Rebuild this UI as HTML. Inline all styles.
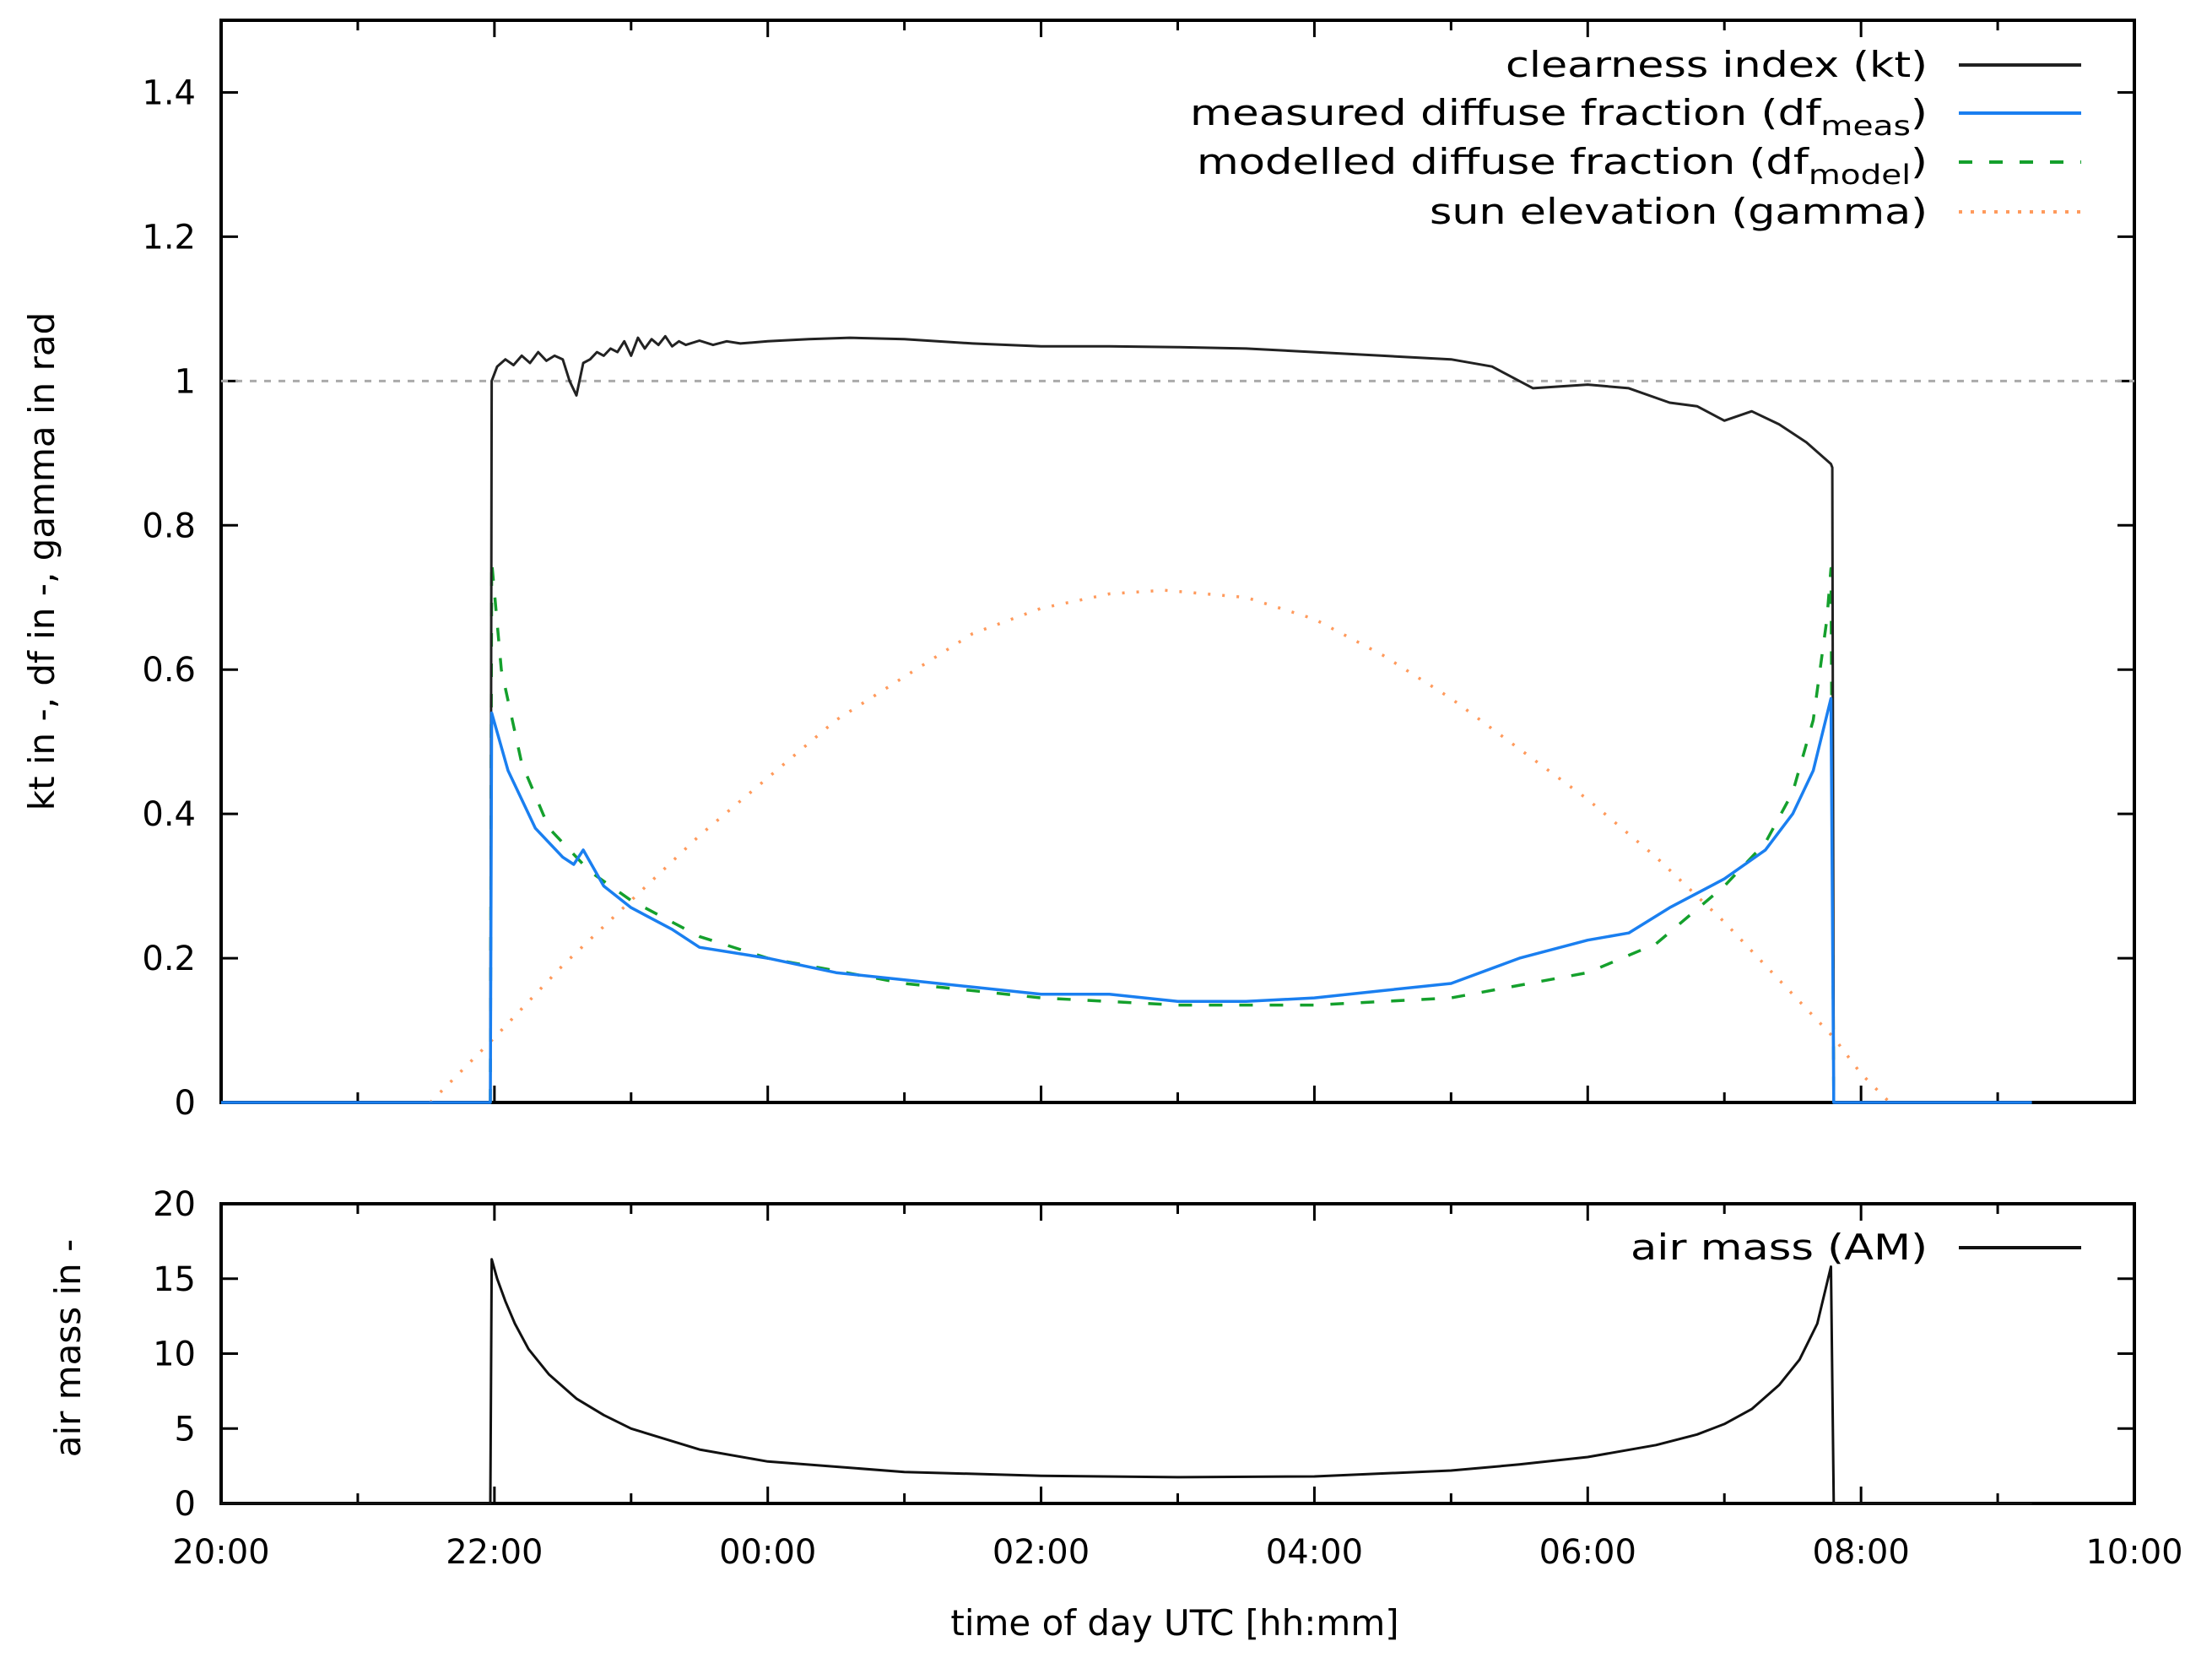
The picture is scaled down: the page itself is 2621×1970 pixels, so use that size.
<!DOCTYPE html>
<html><head><meta charset="utf-8"><title>Clearness index, diffuse fraction, sun elevation and air mass</title>
<style>
html,body{margin:0;padding:0;background:#fff;}
svg{display:block;}
text{font-family:"DejaVu Sans","Liberation Sans",sans-serif;fill:#000;}
</style></head>
<body>
<svg id="chart" width="2621" height="1970" viewBox="0 0 2621 1970" xmlns="http://www.w3.org/2000/svg" style="position:absolute;left:0;top:0">
<g id="topPanel"></g>
<g id="botPanel"></g>
</svg>
<script>
// time in hours since 20:00
const xTickLabels = ["20:00","22:00","00:00","02:00","04:00","06:00","08:00","10:00"];
const topTickLabels = ["0","0.2","0.4","0.6","0.8","1","1.2","1.4"];
const topTickValues = [0,0.2,0.4,0.6,0.8,1.0,1.2,1.4];
const botTickValues = [0,5,10,15,20];

const ktT = [0,1.97,1.98,2.02,2.08,2.14,2.2,2.26,2.32,2.38,2.44,2.5,2.55,2.6,2.65,2.7,2.75,2.8,2.85,2.9,2.95,3.0,3.05,3.1,3.15,3.2,3.25,3.3,3.35,3.4,3.5,3.6,3.7,3.8,4.0,4.3,4.6,5.0,5.5,6.0,6.5,7.0,7.5,8.0,8.5,9.0,9.3,9.6,10.0,10.3,10.6,10.8,11.0,11.2,11.4,11.6,11.78,11.79,11.8,13.25];
const ktV = [0,0,1.0,1.02,1.03,1.022,1.035,1.025,1.04,1.028,1.035,1.03,1.0,0.98,1.025,1.03,1.04,1.035,1.045,1.04,1.055,1.035,1.06,1.045,1.058,1.05,1.062,1.048,1.055,1.05,1.056,1.05,1.055,1.052,1.055,1.058,1.06,1.058,1.052,1.048,1.048,1.047,1.045,1.04,1.035,1.03,1.02,0.99,0.995,0.99,0.97,0.965,0.945,0.958,0.94,0.915,0.885,0.88,0,0];

const dfmT = [0,1.97,1.98,2.1,2.3,2.5,2.58,2.65,2.8,3.0,3.3,3.5,4.0,4.5,5.0,5.5,6.0,6.5,7.0,7.5,8.0,8.5,9.0,9.5,10.0,10.3,10.6,11.0,11.3,11.5,11.65,11.78,11.8,13.25];
const dfmV = [0,0,0.54,0.46,0.38,0.34,0.33,0.35,0.3,0.27,0.24,0.215,0.2,0.18,0.17,0.16,0.15,0.15,0.14,0.14,0.145,0.155,0.165,0.2,0.225,0.235,0.27,0.31,0.35,0.4,0.46,0.56,0,0];

const dfoT = [1.97,1.98,2.05,2.2,2.4,2.7,3.0,3.5,4.0,5.0,6.0,7.0,8.0,9.0,10.0,10.5,11.0,11.3,11.5,11.65,11.75,11.78,11.8];
const dfoV = [0,0.75,0.6,0.47,0.38,0.32,0.28,0.23,0.2,0.165,0.145,0.135,0.135,0.145,0.18,0.22,0.3,0.36,0.43,0.53,0.67,0.74,0];

const gamT = [1.53,2.0,2.5,3.0,3.5,4.0,4.5,5.0,5.5,6.0,6.5,6.9,7.5,8.0,8.5,9.0,9.5,10.0,10.5,11.0,11.5,11.8,12.0,12.21];
const gamV = [0,0.09,0.19,0.28,0.37,0.45,0.53,0.59,0.65,0.685,0.705,0.71,0.70,0.67,0.62,0.56,0.49,0.42,0.34,0.25,0.15,0.09,0.04,0];

const amT = [0,1.97,1.98,2.02,2.08,2.15,2.25,2.4,2.6,2.8,3.0,3.5,4.0,5.0,6.0,7.0,8.0,9.0,9.5,10.0,10.5,10.8,11.0,11.2,11.4,11.55,11.68,11.78,11.8,13.25];
const amV = [0,0,16.3,15.0,13.5,12.0,10.3,8.6,7.0,5.9,5.0,3.6,2.8,2.1,1.85,1.75,1.8,2.2,2.6,3.1,3.9,4.6,5.3,6.3,7.9,9.6,12.0,15.8,0,0];

const PL=262, PR=2529, T1=24, B1=1306, T2=1426, B2=1781;
const NS="http://www.w3.org/2000/svg";
const xs = h => PL + (PR-PL)*h/14;
const y1 = v => B1 - (B1-T1)*v/1.5;
const y2 = v => B2 - (B2-T2)*v/20;
function mk(tag, attrs, parent){const e=document.createElementNS(NS,tag);for(const k in attrs)e.setAttribute(k,attrs[k]);parent.appendChild(e);return e;}
const gTop=document.getElementById('topPanel'), gBot=document.getElementById('botPanel');

function frame(g, T, B, yfun, vals, labels){
  const r=mk('rect',{x:PL,y:T,width:PR-PL,height:B-T,fill:'none',stroke:'#000','stroke-width':4},g);
  
  
  for(let h=0;h<=14;h++){
    const len = h%2===0?20:12;
    mk('line',{x1:xs(h),x2:xs(h),y1:B,y2:B-len,stroke:'#000','stroke-width':3},g);
    mk('line',{x1:xs(h),x2:xs(h),y1:T,y2:T+len,stroke:'#000','stroke-width':3},g);
  }
  vals.forEach((v,i)=>{
    const y=yfun(v);
    mk('line',{x1:PL,x2:PL+20,y1:y,y2:y,stroke:'#000','stroke-width':3},g);
    mk('line',{x1:PR,x2:PR-20,y1:y,y2:y,stroke:'#000','stroke-width':3},g);
    const t=mk('text',{x:232,y:y+14,'text-anchor':'end','font-size':40},g);
    t.textContent=labels[i];
    
    
  });
}
frame(gTop,T1,B1,y1,topTickValues,topTickLabels);
frame(gBot,T2,B2,y2,botTickValues,botTickValues.map(String));

const ref=mk('line',{x1:PL,x2:PR,y1:y1(1),y2:y1(1),stroke:'#aaa','stroke-width':3,'stroke-dasharray':'8 9'},gTop);



function series(g, T, V, yfun, attrs, name){
  const d=T.map((t,i)=>(i?'L':'M')+xs(t).toFixed(1)+' '+yfun(V[i]).toFixed(1)).join(' ');
  const p=mk('path',Object.assign({d:d,fill:'none','stroke-linejoin':'round'},attrs),g);
  
  
}
series(gTop,gamT,gamV,y1,{stroke:'#ff9a5c','stroke-width':3.5,'stroke-dasharray':'3 14'},'series-sun-elevation');
series(gTop,dfoT,dfoV,y1,{stroke:'#14a02c','stroke-width':3.5,'stroke-dasharray':'16 20'},'series-df-model');
series(gTop,ktT,ktV,y1,{stroke:'#222','stroke-width':3},'series-clearness-index');
series(gTop,dfmT,dfmV,y1,{stroke:'#1a7ff0','stroke-width':3.5},'series-df-measured');
series(gBot,amT,amV,y2,{stroke:'#111','stroke-width':3},'series-air-mass');

const chartSvg=document.getElementById('chart');
xTickLabels.forEach((s,i)=>{
  const t=mk('text',{x:xs(i*2),y:1852,'text-anchor':'middle','font-size':40},chartSvg);
  t.textContent=s;
  
  
});
</script>
<svg style="position:absolute;left:0;top:0" width="2621" height="1970">
<text x="1392" y="1937" text-anchor="middle" font-size="42" font-family="DejaVu Sans, Liberation Sans, sans-serif">time of day UTC [hh:mm]</text>
<text transform="translate(64,665) rotate(-90)" text-anchor="middle" font-size="42" font-family="DejaVu Sans, Liberation Sans, sans-serif">kt in -, df in -, gamma in rad</text>
<text transform="translate(95,1597) rotate(-90)" text-anchor="middle" font-size="42" font-family="DejaVu Sans, Liberation Sans, sans-serif">air mass in -</text>
<g font-size="42" font-family="DejaVu Sans, Liberation Sans, sans-serif" text-anchor="end">
<g><text x="2284" y="91" textLength="500" lengthAdjust="spacingAndGlyphs">clearness index (kt)</text><line x1="2321" x2="2466" y1="77" y2="77" stroke="#222" stroke-width="4"/></g>
<g><text x="2284" y="148" textLength="874" lengthAdjust="spacingAndGlyphs">measured diffuse fraction (df<tspan font-size="32" dy="12">meas</tspan><tspan dy="-12">)</tspan></text><line x1="2321" x2="2466" y1="134" y2="134" stroke="#1a7ff0" stroke-width="4"/></g>
<g><text x="2284" y="206" textLength="866" lengthAdjust="spacingAndGlyphs">modelled diffuse fraction (df<tspan font-size="32" dy="12">model</tspan><tspan dy="-12">)</tspan></text><line x1="2321" x2="2466" y1="192" y2="192" stroke="#14a02c" stroke-width="4" stroke-dasharray="16 20"/></g>
<g><text x="2284" y="265" textLength="590" lengthAdjust="spacingAndGlyphs">sun elevation (gamma)</text><line x1="2321" x2="2466" y1="251" y2="251" stroke="#ff9a5c" stroke-width="4" stroke-dasharray="4 10"/></g>
</g>
<g font-size="42" font-family="DejaVu Sans, Liberation Sans, sans-serif" text-anchor="end">
<g><text x="2284" y="1492" textLength="352" lengthAdjust="spacingAndGlyphs">air mass (AM)</text><line x1="2321" x2="2466" y1="1478" y2="1478" stroke="#111" stroke-width="4"/></g>
</g>
</svg>
</body></html>
